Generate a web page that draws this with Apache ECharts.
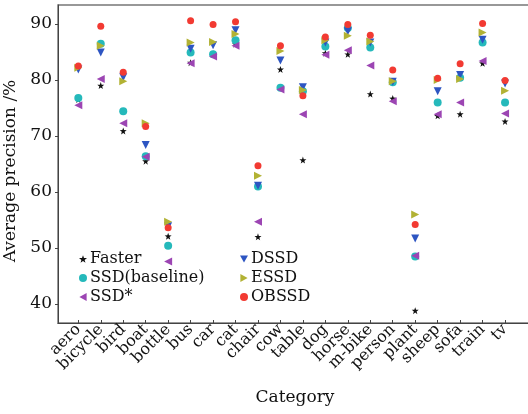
<!DOCTYPE html>
<html>
<head>
<meta charset="utf-8">
<script src="https://cdn.jsdelivr.net/npm/echarts@6/dist/echarts.min.js"></script>
<style>
html,body{margin:0;padding:0;background:#fff;}
#main{width:528px;height:414px;}
</style>
</head>
<body>
<div id="main"></div>
<script>
var categories = ['aero','bicycle','bird','boat','bottle','bus','car','cat','chair','cow','table','dog','horse','m-bike','person','plant','sheep','sofa','train','tv'];
var yTicks = [40, 50, 60, 70, 80, 90];

var faster   = [76.5, 79.0, 70.9, 65.5, 52.1, 83.1, 84.7, 86.4, 52.0, 81.9, 65.7, 84.8, 84.6, 77.5, 76.7, 38.8, 73.6, 73.9, 83.0, 72.6];
var ssdBase  = [76.8, 86.5, 74.4, 66.4, 50.4, 84.9, 84.6, 87.1, 61.0, 78.6, 78.0, 86.0, 89.3, 85.8, 79.6, 48.5, 76.0, 80.4, 86.7, 76.0];
var ssdStar  = [75.5, 80.2, 72.3, 66.3, 47.6, 83.0, 84.2, 86.1, 54.7, 78.3, 73.9, 84.5, 85.3, 82.6, 76.2, 48.6, 73.9, 76.0, 83.4, 74.0];
var dssd     = [81.9, 84.9, 80.5, 68.4, 53.9, 85.6, 86.2, 88.9, 61.1, 83.5, 78.7, 86.7, 88.7, 86.7, 79.7, 51.7, 78.0, 80.9, 87.2, 79.4];
var essd     = [82.2, 86.1, 79.8, 72.3, 54.7, 86.7, 86.8, 88.2, 62.9, 85.2, 78.2, 87.1, 87.9, 86.9, 79.8, 56.0, 80.0, 80.2, 88.5, 78.1];
var obssd    = [82.5, 89.6, 81.4, 71.7, 53.6, 90.6, 89.9, 90.4, 64.7, 86.1, 77.2, 87.7, 89.9, 88.0, 81.8, 54.2, 80.3, 82.9, 90.1, 79.9];

// marker shapes
var starPath  = 'path://M0,-10L2.35,-3.24L9.51,-3.09L3.8,1.24L5.88,8.09L0,4L-5.88,8.09L-3.8,1.24L-9.51,-3.09L-2.35,-3.24Z';
var triDown   = 'path://M0,0L10,0L5,9Z';
var triLeft   = 'path://M9,0L9,10L0,5Z';
var triRight  = 'path://M0,0L0,10L9,5Z';
var idx = categories.map(function(c, i){ return i; });
// blank end labels so the min/max-label overlap check leaves aero/tv alone
var labelVals = [-0.85].concat(idx, [20.15]);

function pts(arr){
	return arr.map(function(v, i){ return [i, v]; });
}

function makeSeries(name, arr, symbol, size, color){
	return {
		name: name,
		type: 'scatter',
		data: pts(arr),
		symbol: symbol,
		symbolSize: size,
		itemStyle: {color: color, opacity: 1},
		emphasis: {disabled: true}
	};
}

var font = 'DejaVu Serif';
var myChart = echarts.init(document.getElementById('main'), null, {renderer: 'canvas'});

var legendText = {fontFamily: font, fontSize: 16, color: '#111', lineHeight: 16, padding: [0,0,0,-2]};

var option = {
	animation: false,
	grid: {
		left: 58, top: 5, right: -4, bottom: 91,
		outerBoundsMode: 'none',
		containLabel: false,
		show: true, borderColor: '#777', borderWidth: 1.5
	},
	legend: [{
		data: ['Faster', 'SSD(baseline)', 'SSD*'],
		orient: 'vertical',
		left: 74, top: 246,
		itemWidth: 8, itemHeight: 8, itemGap: 3,
		textStyle: legendText
	}, {
		data: ['DSSD', 'ESSD', 'OBSSD'],
		orient: 'vertical',
		left: 235, top: 246,
		itemWidth: 8, itemHeight: 8, itemGap: 3,
		textStyle: legendText
	}],
	xAxis: {
		type: 'value',
		min: -0.904, max: 20.2,
		name: 'Category',
		nameLocation: 'middle',
		nameGap: 66,
		nameTextStyle: {fontFamily: font, fontSize: 17, color: '#111'},
		axisLine: {onZero: false, lineStyle: {color: '#444', width: 1}},
		axisTick: {inside: true, length: 3, customValues: idx, lineStyle: {color: '#444'}},
		axisLabel: {
			customValues: labelVals,
			hideOverlap: false,
			rotate: 45,
			margin: 4,
			fontFamily: font, fontSize: 16, color: '#111',
			formatter: function(v){
				var i = Math.round(v);
				return (Math.abs(v - i) < 0.01 && categories[i]) ? categories[i] : ' ';
			}
		},
		splitLine: {show: false}
	},
	yAxis: {
		type: 'value',
		min: 36.6, max: 93.4,
		name: 'Average precision /%',
		nameLocation: 'middle',
		nameGap: 34,
		nameTextStyle: {fontFamily: font, fontSize: 17, color: '#111', padding: [0, 0, 0, -14]},
		axisLine: {show: true, onZero: false, lineStyle: {color: '#444', width: 1}},
		axisTick: {show: true, inside: false, length: 3, customValues: yTicks, lineStyle: {color: '#444'}},
		axisLabel: {customValues: yTicks, margin: 6, fontFamily: font, fontSize: 17, color: '#111'},
		splitLine: {show: false}
	},
	series: [
		makeSeries('Faster', faster, starPath, 7, '#111111'),
		makeSeries('SSD(baseline)', ssdBase, 'circle', 8, '#25b9bb'),
		makeSeries('SSD*', ssdStar, triLeft, 8, '#9c45b3'),
		makeSeries('DSSD', dssd, triDown, 8, '#2d55c2'),
		makeSeries('ESSD', essd, triRight, 8, '#b2b234'),
		makeSeries('OBSSD', obssd, 'circle', 7, '#f23a32')
	]
};

myChart.setOption(option);
</script>
</body>
</html>
